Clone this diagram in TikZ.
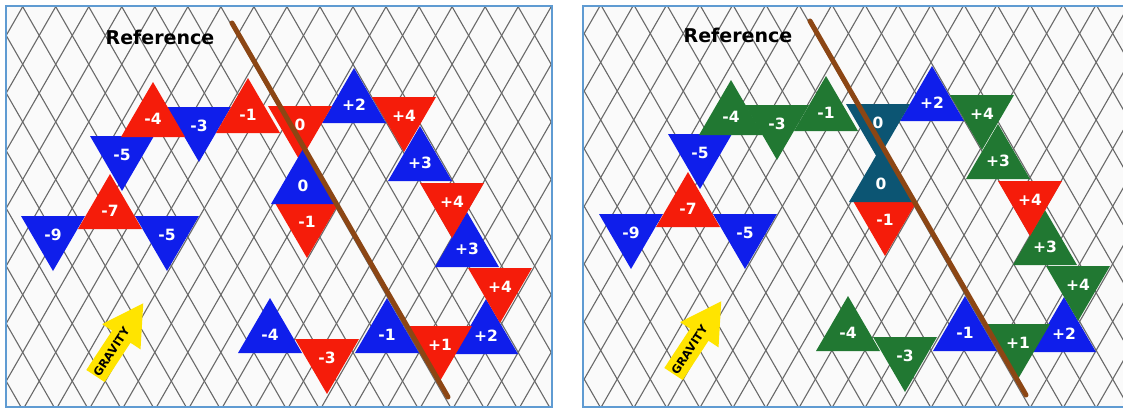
\documentclass[tikz,border=0pt]{standalone}
\usepackage{fontspec}
\newfontfamily\vfont{DejaVu Sans}
\usetikzlibrary{positioning}
\definecolor{trired}{RGB}{245,28,10}
\definecolor{triblue}{RGB}{15,30,235}
\definecolor{trigreen}{RGB}{33,120,50}
\definecolor{triteal}{RGB}{12,85,115}
\definecolor{gravyellow}{RGB}{255,228,0}
\definecolor{frameblue}{RGB}{95,155,210}
\definecolor{rodbrown}{RGB}{140,70,20}
\definecolor{meshgray}{RGB}{105,105,105}
% x / y of the flat edge, direction (1 up, -1 down), colour left, colour right, label
\newcommand{\trilist}{199/107/-1/triblue/trigreen/-3,
  354/123/1/triblue/triblue/+2,
  420/181/1/triblue/trigreen/+3,
  467/267/1/triblue/trigreen/+3,
  486/354/1/triblue/triblue/+2,
  387/353/1/triblue/triblue/-1,
  270/353/1/triblue/trigreen/-4,
  122/136/-1/triblue/triblue/-5,
  53/216/-1/triblue/triblue/-9,
  167/216/-1/triblue/triblue/-5,
  153/137/1/trired/trigreen/-4,
  248/133/1/trired/trigreen/-1,
  300/106/-1/trired/triteal/0,
  404/97/-1/trired/trigreen/+4,
  452/183/-1/trired/trired/+4,
  500/268/-1/trired/trigreen/+4,
  440/326/-1/trired/trigreen/+1,
  327/339/-1/trired/trigreen/-3,
  307/203/-1/trired/trired/-1,
  110/229/1/trired/trired/-7,
  303/204/1/triblue/triteal/0}
\newcommand{\drawmesh}{%
  \foreach \k in {-9,...,25} {
    \draw[meshline] ({22.7+33.03*\k-15.3},-20) -- ({22.7+33.03*\k+242.7},430);
    \draw[meshline] ({22.7+33.03*\k+15.3},-20) -- ({22.7+33.03*\k-242.7},430);
  }}
\newcommand{\drawtriangles}[1]{%
  \foreach \x/\y/\d/\ca/\cb/\t [count=\i] in \trilist {
    \ifnum#1=1 \colorlet{tricol}{\ca}\else\colorlet{tricol}{\cb}\fi
    \fill[tricol] ({\x-32},\y) -- ({\x+32},\y) -- (\x,{\y-(\d)*55}) -- cycle;
    \node[trilabel] (tri#1-\i) at (\x,{\y-(\d)*18.5}) {\t};
  }}
\newcommand{\drawextras}[1]{%
  \node[titletext] (title#1) at (160,37) {Reference};
  \coordinate (rodtop#1) at (232,23);
  \coordinate (rodbot#1) at (448,397);
  \draw[rod] (rodtop#1) -- (rodbot#1);
  \begin{scope}[shift={(95.5,376)}, rotate=56.7]
    \fill[gravyellow] (0,-11) -- (47,-11) -- (47,-23) -- (87,0) -- (47,23) -- (47,11) -- (0,11) -- cycle;
    \node[gravtext, transform shape] (grav#1) at (29,0) {GRAVITY};
  \end{scope}}

\begin{document}
\begin{tikzpicture}[x=1pt, y=-1pt,
    meshline/.style={meshgray, line width=1.1pt},
    panel/.style={draw=frameblue, line width=2pt, fill=black!2},
    trilabel/.style={text=white, inner sep=0pt, font=\vfont\bfseries\fontsize{15.5}{15.5}\selectfont},
    titletext/.style={inner sep=0pt, font=\vfont\bfseries\fontsize{19}{19}\selectfont},
    gravtext/.style={inner sep=0pt, font=\vfont\bfseries\fontsize{11.5}{11.5}\selectfont},
    rod/.style={rodbrown, line width=5pt, line cap=round}]

  \useasboundingbox (0,0) rectangle (1123,410);
  \fill[white] (0,0) rectangle (1123,410);

  % left panel
  \draw[panel] (6,6) rectangle (552,407);
  \begin{scope}
    \clip (6,6) rectangle (552,407);
    \drawmesh
  \end{scope}
  \drawtriangles{1}
  \drawextras{1}
  \draw[draw=frameblue, line width=2pt] (6,6) rectangle (552,407);

  % right panel
  \draw[panel] (583,6) rectangle (1135,407);
  \begin{scope}
    \clip (583,6) rectangle (1135,407);
    \begin{scope}[shift={(578,-2)}]
      \drawmesh
    \end{scope}
  \end{scope}
  \begin{scope}[shift={(578,-2)}]
    \drawtriangles{2}
    \drawextras{2}
  \end{scope}
  \draw[draw=frameblue, line width=2pt] (583,6) rectangle (1135,407);

\end{tikzpicture}
\end{document}
